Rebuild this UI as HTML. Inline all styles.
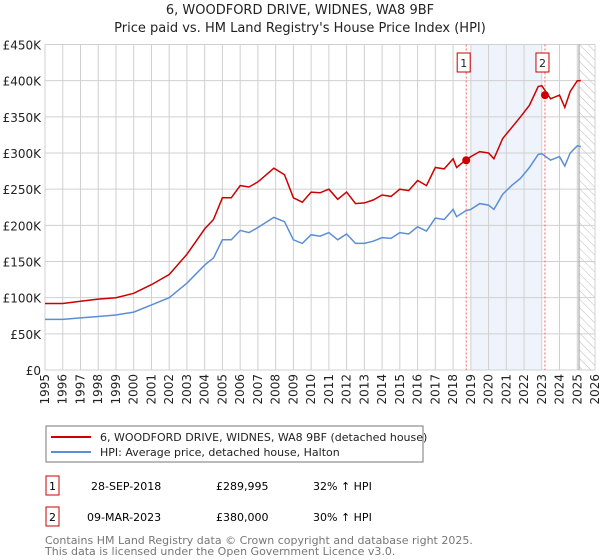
<!DOCTYPE html>
<html><head><meta charset="utf-8"><style>
body{margin:0;background:#fff;font-family:"Liberation Sans","DejaVu Sans",sans-serif;}
#wrap{position:relative;width:600px;height:560px;overflow:hidden}
</style></head><body><div id="wrap">
<svg id="svg" width="600" height="560" xmlns="http://www.w3.org/2000/svg" style="position:absolute;left:0;top:0;font-family:'DejaVu Sans','Liberation Sans',sans-serif">
<defs><pattern id="hatch" width="6" height="6" patternUnits="userSpaceOnUse" patternTransform="rotate(-45)"><line x1="0" y1="0" x2="0" y2="6" stroke="#bbb" stroke-width="1"/></pattern></defs>
<text x="300" y="14" text-anchor="middle" font-size="13" fill="#222">6, WOODFORD DRIVE, WIDNES, WA8 9BF</text>
<text x="300" y="32" text-anchor="middle" font-size="13" fill="#222">Price paid vs. HM Land Registry's House Price Index (HPI)</text>
<g id="grid"></g><g id="marks"></g><g id="axes"></g>
<rect x="46" y="426" width="377" height="36" fill="#fff" stroke="#777"/>
<line x1="51" y1="437" x2="91" y2="437" stroke="#cc0000" stroke-width="2"/>
<text x="100" y="441" font-size="11" fill="#222">6, WOODFORD DRIVE, WIDNES, WA8 9BF (detached house)</text>
<line x1="51" y1="452" x2="91" y2="452" stroke="#5b8ed6" stroke-width="2"/>
<text x="100" y="456" font-size="11" fill="#222">HPI: Average price, detached house, Halton</text>
<g>
<rect x="46" y="476" width="13" height="19" fill="#fff" stroke="#cc0000"/><text x="52.5" y="490" text-anchor="middle" font-size="11">1</text>
<text x="91" y="490" font-size="11">28-SEP-2018</text><text x="216" y="490" font-size="11">£289,995</text><text x="313" y="490" font-size="11">32% ↑ HPI</text></g>
<g>
<rect x="46" y="507" width="13" height="19" fill="#fff" stroke="#cc0000"/><text x="52.5" y="521" text-anchor="middle" font-size="11">2</text>
<text x="87" y="521" font-size="11">09-MAR-2023</text><text x="216" y="521" font-size="11">£380,000</text><text x="313" y="521" font-size="11">30% ↑ HPI</text></g>
<text x="45" y="544" font-size="11" fill="#777">Contains HM Land Registry data © Crown copyright and database right 2025.</text>
<text x="45" y="555" font-size="11" fill="#777">This data is licensed under the Open Government Licence v3.0.</text>
</svg></div>
<script>
const years=[1995,1996,1997,1998,1999,2000,2001,2002,2003,2004,2004.5,2005,2005.5,2006,2006.5,2007,2007.9,2008.5,2009,2009.5,2010,2010.5,2011,2011.5,2012,2012.5,2013,2013.5,2014,2014.5,2015,2015.5,2016,2016.5,2017,2017.5,2018,2018.2,2018.7,2019,2019.5,2020,2020.3,2020.8,2021.3,2021.8,2022.3,2022.8,2023,2023.5,2024,2024.3,2024.6,2025,2025.2];
const hpiValues=[70,70,72,74,76,80,90,100,120,145,155,180,180,193,190,197,211,205,180,175,187,185,190,180,188,175,175,178,183,182,190,188,198,192,210,208,222,212,220,222,230,228,222,243,255,265,280,298,299,290,295,282,300,310,309];
const propValues=[92,92,95,98,100,106,118,132,160,195,208,238,238,255,253,260,279,270,238,232,246,245,250,236,246,230,231,235,242,240,250,248,262,255,280,278,292,280,290,295,302,300,292,320,335,350,366,392,393,375,380,363,385,400,400];
const saleYears=[2018.74,2023.18];
const saleValues=[289.995,380];
const yTicks=[0,50,100,150,200,250,300,350,400,450];
const yLabels=["£0","£50K","£100K","£150K","£200K","£250K","£300K","£350K","£400K","£450K"];
const X0=45,X1=595,Y0=370,Y1=44.5;
const xs=y=>X0+(y-1995)/31*(X1-X0);
const ys=v=>Y0-v/450*(Y0-Y1);
const NS="http://www.w3.org/2000/svg";
function mk(parent,tag,attrs){const e=document.createElementNS(NS,tag);for(const k in attrs)e.setAttribute(k,attrs[k]);document.getElementById(parent).appendChild(e);return e;}
let sh=mk('grid','rect',{x:xs(2019),y:Y1,width:xs(2023)-xs(2019),height:Y0-Y1,fill:'#eef3fc'});


let ht=mk('grid','rect',{x:xs(2025.1),y:Y1,width:X1-xs(2025.1),height:Y0-Y1,fill:'url(#hatch)'});


for(let y=1995;y<=2026;y++){
 let l=mk('grid','line',{x1:xs(y),x2:xs(y),y1:Y1,y2:Y0,stroke:'#d0d0d0','stroke-width':1});
 
 
 let t=mk('axes','text',{x:0,y:0,'font-size':12,fill:'#222','text-anchor':'end',transform:`translate(${xs(y)+4},${Y0+4}) rotate(-90)`});
 t.textContent=y;
 
 
}
yTicks.forEach((v,i)=>{
 let l=mk('grid','line',{x1:X0,x2:X1,y1:ys(v),y2:ys(v),stroke:'#d0d0d0','stroke-width':1});
 
 
 let t=mk('axes','text',{x:X0-4,y:ys(v)+5,'font-size':12,fill:'#222','text-anchor':'end'});
 t.textContent=yLabels[i];
 
 
});
let bd=mk('grid','line',{x1:xs(2025.1),x2:xs(2025.1),y1:Y1,y2:Y0,stroke:'#999','stroke-width':1});


saleYears.forEach((yr,i)=>{
 let l=mk('marks','line',{x1:xs(yr),x2:xs(yr),y1:Y1,y2:Y0,stroke:'#e66','stroke-width':1,'stroke-dasharray':'2,2'});
 
 
 let r=mk('marks','rect',{x:xs(yr)-9,y:53,width:13,height:19,fill:'#fff',stroke:'#cc0000'});
 
 
 let t=mk('marks','text',{x:xs(yr)-2.5,y:67,'font-size':11,'text-anchor':'middle',fill:'#222'});
 t.textContent=i+1;
 
 
});
function path(vals){return vals.map((v,i)=>(i?'L':'M')+xs(years[i]).toFixed(1)+','+ys(v).toFixed(1)).join('');}
let hp=mk('marks','path',{d:path(hpiValues),fill:'none',stroke:'#5b8ed6','stroke-width':1.5});


let pp=mk('marks','path',{d:path(propValues),fill:'none',stroke:'#cc0000','stroke-width':1.5});


saleYears.forEach((yr,i)=>{
 let c=mk('marks','circle',{cx:xs(yr),cy:ys(saleValues[i]),r:4,fill:'#cc0000'});
 
 
});
</script></body></html>
